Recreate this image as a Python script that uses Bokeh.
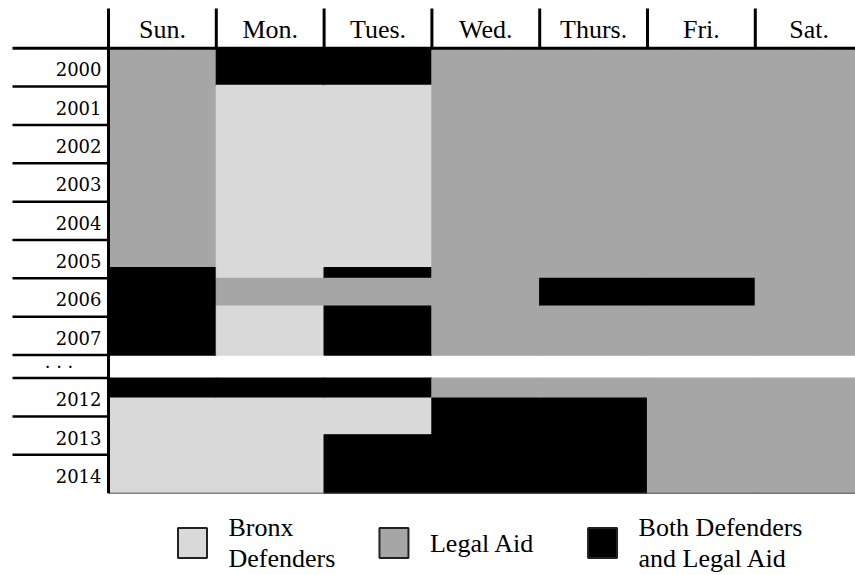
from bokeh.plotting import figure
from bokeh.models import Range1d, ColumnDataSource
from bokeh.core.properties import value
from bokeh.embed import file_html
from bokeh.resources import INLINE

# ---------------- data ----------------
days = ["Sun.", "Mon.", "Tues.", "Wed.", "Thurs.", "Fri.", "Sat."]
years_early = [2000, 2001, 2002, 2003, 2004, 2005, 2006, 2007]
years_late = [2012, 2013, 2014]
gap_label = ". . ."

providers = ["Bronx Defenders", "Legal Aid", "Both Defenders and Legal Aid"]
legend_labels = ["Bronx\nDefenders", "Legal Aid", "Both Defenders\nand Legal Aid"]
provider_colors = ["#d9d9d9", "#a6a6a6", "#000000"]

# coverage segments: day index, start (fractional year), end, provider index
seg_day = [0, 0, 0, 0,
           1, 1, 1, 1, 1, 1,
           2, 2, 2, 2, 2, 2, 2, 2,
           3, 3, 3,
           4, 4, 4, 4, 4,
           5, 5, 5, 5,
           6, 6]
seg_start = [2000.0, 2005.72, 2012.0, 2012.52,
             2000.0, 2000.97, 2006.0, 2006.72, 2012.0, 2012.52,
             2000.0, 2000.97, 2005.72, 2006.0, 2006.72, 2012.0, 2012.52, 2013.48,
             2000.0, 2012.0, 2012.52,
             2000.0, 2006.0, 2006.72, 2012.0, 2012.52,
             2000.0, 2006.0, 2006.72, 2012.0,
             2000.0, 2012.0]
seg_end = [2005.72, 2008.0, 2012.52, 2015.0,
           2000.97, 2006.0, 2006.72, 2008.0, 2012.52, 2015.0,
           2000.97, 2005.72, 2006.0, 2006.72, 2008.0, 2012.52, 2013.48, 2015.0,
           2008.0, 2012.52, 2015.0,
           2006.0, 2006.72, 2008.0, 2012.52, 2015.0,
           2006.0, 2006.72, 2008.0, 2015.0,
           2008.0, 2015.0]
seg_provider = [1, 2, 2, 0,
                2, 0, 1, 0, 2, 0,
                2, 0, 2, 1, 2, 2, 0, 2,
                1, 1, 2,
                1, 2, 1, 1, 2,
                1, 2, 1, 1,
                1, 1]

# ---------------- layout helpers ----------------
GAP = 0.6  # height of the "..." row, in row units
N_EARLY = len(years_early)


def ypos(t):
    if t <= years_early[0] + N_EARLY:
        return t - years_early[0]
    return N_EARLY + GAP + (t - years_late[0])


year_rows = [ypos(y) for y in years_early] + [ypos(y) for y in years_late]
year_labels = [str(y) for y in years_early] + [str(y) for y in years_late]
sep_rows = [ypos(y) for y in years_early[1:]] + [N_EARLY] + [ypos(y) for y in years_late]
bottom_pos = ypos(years_late[-1] + 1)

X0, X1 = -1.0019, 6.9295
Y_TOP, Y_BOT = -1.2435, 13.746
HEADER_TOP = -1.035
LABEL_LEFT = -0.8905

p = figure(width=855, height=575,
           x_range=Range1d(X0, X1), y_range=Range1d(Y_BOT, Y_TOP),
           x_axis_type=None, y_axis_type=None,
           output_backend="svg", toolbar_location=None, min_border=0)
p.grid.visible = False
p.outline_line_color = None
p.background_fill_color = "white"
p.border_fill_color = "white"

# cells
cells = ColumnDataSource(dict(
    left=seg_day,
    right=[d + 1 for d in seg_day],
    top=[ypos(s) for s in seg_start],
    bottom=[ypos(e) for e in seg_end],
    color=[provider_colors[k] for k in seg_provider],
))
p.quad(left="left", right="right", top="top", bottom="bottom",
       fill_color="color", line_color="color", line_width=1.2, source=cells)

# thin bottom baseline
p.segment(x0=[0], y0=[bottom_pos], x1=[X1], y1=[bottom_pos],
          line_color="#555555", line_width=1)

# row separator lines in label column
p.segment(x0=[LABEL_LEFT] * len(sep_rows), y0=sep_rows,
          x1=[0] * len(sep_rows), y1=sep_rows,
          line_color="black", line_width=2.5)

# header line
p.segment(x0=[LABEL_LEFT], y0=[0], x1=[X1], y1=[0], line_color="black", line_width=3)

# header column separators
seps = list(range(1, len(days)))
p.segment(x0=seps, y0=[HEADER_TOP] * len(seps), x1=seps, y1=[0] * len(seps),
          line_color="black", line_width=3)

# left vertical line
p.segment(x0=[0], y0=[HEADER_TOP], x1=[0], y1=[bottom_pos], line_color="black", line_width=3)

# day labels
p.text(x=[i + 0.5 for i in range(len(days))], y=[-0.4875] * len(days), text=days,
       text_font=value("Liberation Serif"), text_font_size="26px",
       text_align="center", text_baseline="middle", text_color="black")

# year labels
p.text(x=[-0.065] * len(year_labels),
       y=[r + 0.55 for r in year_rows],
       text=year_labels,
       text_font=value("DejaVu Serif"), text_font_size="18px",
       text_align="right", text_baseline="middle", text_color="black")

# gap row label
p.text(x=[-0.459], y=[N_EARLY + GAP / 2 - 0.13], text=[gap_label],
       text_font=value("DejaVu Serif"), text_font_size="18px",
       text_align="center", text_baseline="middle", text_color="black")

# legend
leg_x = [0.779, 2.648, 4.583]
leg_y = 12.9
p.rect(x=leg_x, y=[leg_y] * 3, width=29, height=30,
       width_units="screen", height_units="screen",
       fill_color=provider_colors, line_color="#222222", line_width=2)
p.text(x=leg_x, y=[leg_y] * 3, text=legend_labels, x_offset=36,
       text_font=value("Liberation Serif"), text_font_size="26px",
       text_align="left", text_baseline="middle", text_line_height=1.05,
       text_color="black")

open("out.html", "w").write(file_html(p, INLINE))
